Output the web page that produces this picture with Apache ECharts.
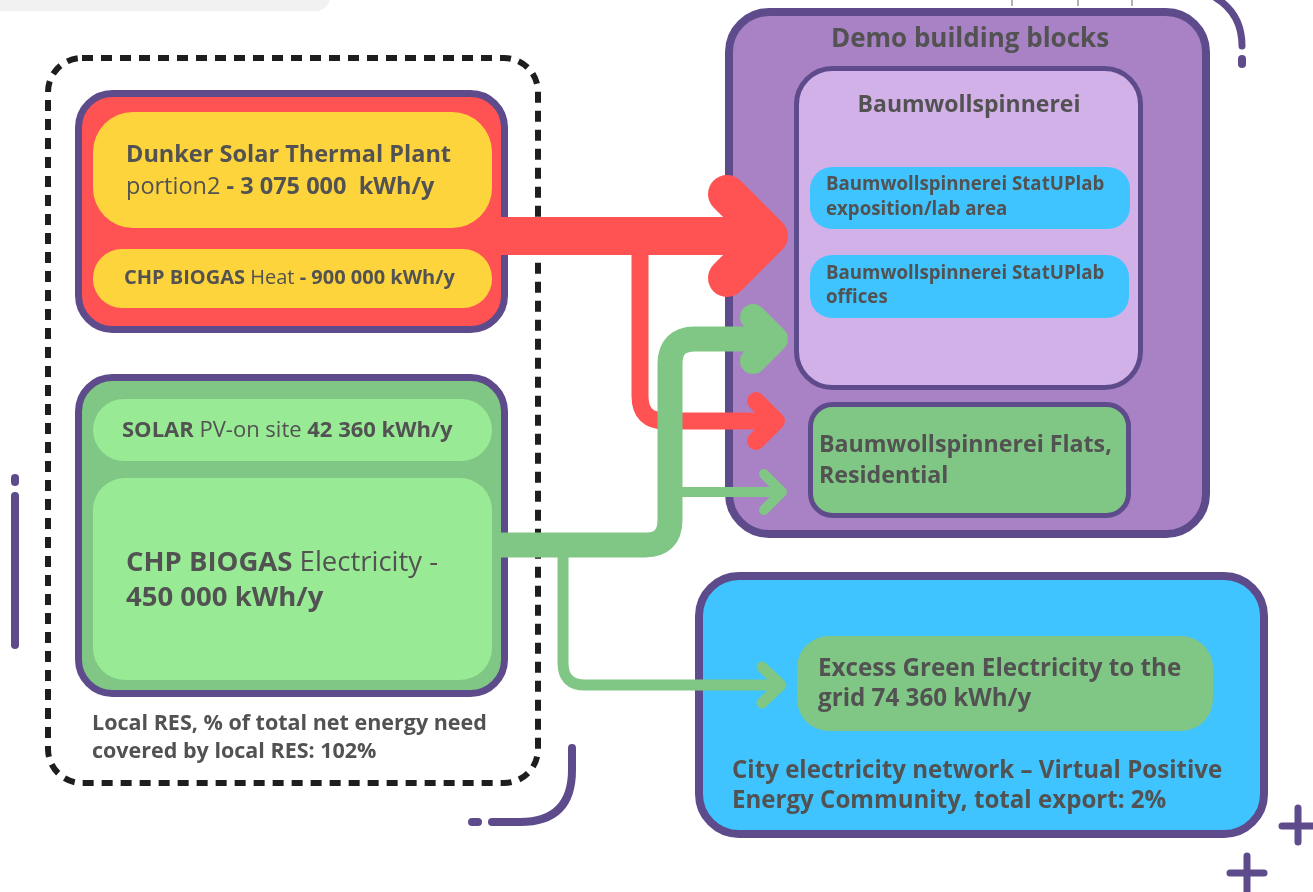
<!DOCTYPE html>
<html>
<head>
<meta charset="utf-8">
<script src="https://cdn.jsdelivr.net/npm/echarts@6/dist/echarts.min.js"></script>
<style>
  html, body { margin: 0; padding: 0; background: #fff; }
  #chart { width: 1313px; height: 892px; }
</style>
</head>
<body>
<div id="chart"></div>
<script>
// values
const heatSources = ['Dunker Solar Thermal Plant', 'CHP BIOGAS'];
const heatEnergy = ['3 075 000', '900 000'];           // kWh/y
const elecSources = ['SOLAR', 'CHP BIOGAS'];
const elecEnergy = ['42 360', '450 000'];              // kWh/y
const demoBlocks = ['Baumwollspinnerei StatUPlab', 'Baumwollspinnerei StatUPlab', 'Baumwollspinnerei Flats,'];
const demoBlocksSub = ['exposition/lab area', 'offices', 'Residential'];
const gridExport = ['74 360'];                         // kWh/y
const shares = ['102%', '2%'];                         // local RES coverage, total export

const FONT = '"Open Sans", Lato, sans-serif';
const TXT = '#525252';
const PURPLE = '#5e4b8b';

const chart = echarts.init(document.getElementById('chart'));

function box(x, y, w, h, r, fill, stroke, lw) {
  lw = lw || 0;
  return {
    type: 'rect',
    shape: { x: x + lw / 2, y: y + lw / 2, width: w - lw, height: h - lw, r: r },
    style: { fill: fill, stroke: stroke || null, lineWidth: lw }
  };
}

function txt(x, y, parts, size, align) {
  // parts: [[text, bold], ...]
  let s = parts.map(p => '{' + (p[1] ? 'b' : 'n') + '|' + p[0] + '}').join('');
  return {
    type: 'text', x: x, y: y,
    style: {
      text: s,
      align: align || 'left',
      verticalAlign: 'middle',
      rich: {
        b: { fontFamily: FONT, fontWeight: 'bold', fontSize: size, fill: TXT },
        n: { fontFamily: FONT, fontWeight: 'normal', fontSize: size, fill: TXT }
      }
    }
  };
}

function stroke(d, color, lw, cap) {
  return {
    type: 'path',
    shape: { pathData: d },
    style: { fill: 'none', stroke: color, lineWidth: lw, lineCap: cap || 'round', lineJoin: 'round' }
  };
}

const RED = '#ff5252', YEL = '#fdd43c', GRN = '#80c684', LGRN = '#98eb94';
const LAV = '#a982c6', LLAV = '#d2b0e8', BLUE = '#40c4ff';

let g = [];

// top-left grey tab
g.push({ type: 'rect', shape: { x: -40, y: -40, width: 370, height: 51, r: 14 }, style: { fill: '#f1f1f1' } });

// dashed local RES frame
g.push({
  type: 'rect',
  shape: { x: 48, y: 58, width: 490, height: 725, r: 34 },
  style: { fill: 'none', stroke: '#1e1e1e', lineWidth: 6, lineDash: [11, 8] }
});

// heat sources
g.push(box(75, 90, 433, 243, 34, RED, PURPLE, 7));
g.push(box(93, 112, 399, 116, 40, YEL));
g.push(box(93, 249, 399, 59, 29, YEL));
g.push(txt(126, 155, [[heatSources[0], true]], 23.5));
g.push(txt(126, 187, [['portion2 ', false], ['- ' + heatEnergy[0] + '  kWh/y', true]], 23.5));
g.push(txt(124, 278, [[heatSources[1] + ' ', true], ['Heat ', false], ['- ' + heatEnergy[1] + ' kWh/y', true]], 20));

// electricity sources
g.push(box(75, 374, 433, 323, 34, GRN, PURPLE, 7));
g.push(box(93, 399, 399, 62, 31, LGRN));
g.push(box(93, 478, 399, 202, 32, LGRN));
g.push(txt(122, 431, [[elecSources[0] + ' ', true], ['PV-on site ', false], [elecEnergy[0] + ' kWh/y', true]], 22));
g.push(txt(126, 563, [[elecSources[1] + ' ', true], ['Electricity -', false]], 27.5));
g.push(txt(126, 598, [[elecEnergy[1] + ' kWh/y', true]], 27.5));

g.push(txt(92, 724, [['Local RES, % of total net energy need', true]], 21.5));
g.push(txt(92, 752, [['covered by local RES: ' + shares[0], true]], 21.5));

// demo building blocks
g.push(box(725, 8, 485, 530, 40, LAV, PURPLE, 8));
g.push(txt(970, 40, [['Demo building blocks', true]], 26, 'center'));
g.push(box(794, 66, 349, 324, 36, LLAV, PURPLE, 5));
g.push(txt(969, 105, [['Baumwollspinnerei', true]], 23, 'center'));
g.push(box(810, 167, 320, 62, 22, BLUE));
g.push(txt(826, 185, [[demoBlocks[0], true]], 18.7));
g.push(txt(826, 210, [[demoBlocksSub[0], true]], 18.7));
g.push(box(810, 255, 319, 63, 22, BLUE));
g.push(txt(826, 274, [[demoBlocks[1], true]], 18.7));
g.push(txt(826, 298, [[demoBlocksSub[1], true]], 18.7));
g.push(box(808, 402, 323, 116, 22, GRN, PURPLE, 5));
g.push(txt(819, 445, [[demoBlocks[2], true]], 23.2));
g.push(txt(819, 476, [[demoBlocksSub[2], true]], 23.2));

// city network
g.push(box(695, 572, 573, 266, 40, BLUE, PURPLE, 8));
g.push(box(797, 636, 416, 95, 32, GRN));
g.push(txt(818, 669, [['Excess Green Electricity to the', true]], 24.2));
g.push(txt(818, 699, [['grid ' + gridExport[0] + ' kWh/y', true]], 24.2));
g.push(txt(732, 771, [['City electricity network \u2013 Virtual Positive', true]], 24.1));
g.push(txt(732, 801, [['Energy Community, total export: ' + shares[1], true]], 24.1));

// flows and decorations, drawn as a custom series on top of the boxes
let f = [];
// heat flows
f.push(stroke('M 500 236 L 765 236', RED, 38, 'butt'));
f.push(stroke('M 727 194 L 769 236 L 727 278', RED, 38));
f.push(stroke('M 640 250 L 640 396 Q 640 421 665 421 L 772 421', RED, 17, 'butt'));
f.push(stroke('M 756 401 L 776 421 L 756 441', RED, 18));
// electricity flows
f.push(stroke('M 500 545 L 645 545 Q 670 545 670 520 L 670 364 Q 670 339 695 339 L 770 339', GRN, 25, 'butt'));
f.push(stroke('M 753 317 L 775 339 L 753 361', GRN, 26));
f.push(stroke('M 670 492 L 778 492', GRN, 10, 'butt'));
f.push(stroke('M 764 474 L 782 492 L 764 510', GRN, 10));
f.push(stroke('M 563 545 L 563 663 Q 563 685 585 685 L 777 685', GRN, 11, 'butt'));
f.push(stroke('M 762 667 L 781 685 L 762 703', GRN, 11));
// decorations
f.push(stroke('M 15 478 L 15 482', PURPLE, 8));
f.push(stroke('M 15 496 L 15 645', PURPLE, 8));
f.push(stroke('M 572 748 L 572 770 Q 572 822 520 822 L 492 822', PURPLE, 8));
f.push(stroke('M 472 822 L 478 822', PURPLE, 8));
f.push(stroke('M 1216 -2 Q 1242 14 1242 46', PURPLE, 7));
f.push(stroke('M 1242 59 L 1242 64', PURPLE, 8));
f.push(stroke('M 1298 808 L 1298 842 M 1282 826 L 1316 826', PURPLE, 7));
f.push(stroke('M 1247 856 L 1247 892 M 1230 873 L 1264 873', PURPLE, 7));
[1012, 1078, 1132].forEach(x => f.push(stroke('M ' + x + ' 0 L ' + x + ' 6', '#666', 1, 'butt')));

chart.setOption({
  backgroundColor: '#ffffff',
  animation: false,
  graphic: { elements: g },
  series: [{
    type: 'custom',
    coordinateSystem: 'none',
    silent: true,
    data: [0],
    renderItem: function () {
      return { type: 'group', children: f };
    }
  }]
});
</script>
</body>
</html>
